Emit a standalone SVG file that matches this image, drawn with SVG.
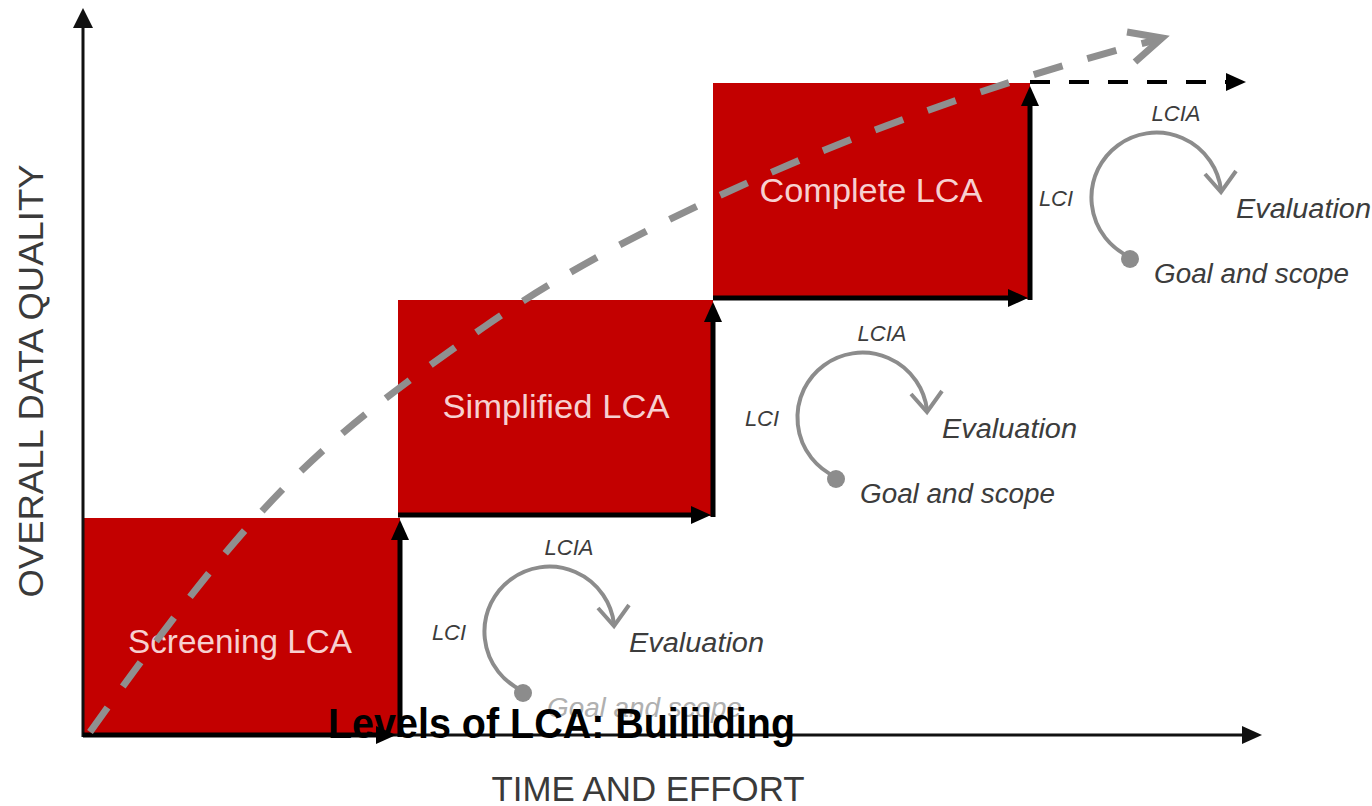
<svg xmlns="http://www.w3.org/2000/svg" width="1372" height="806" viewBox="0 0 1372 806">
<style>
.box{fill:#c30000}
.boxlabel{font-family:"Liberation Sans",Arial,sans-serif;font-size:33px;fill:#f7d0d0;text-anchor:middle}
.axislabel{font-family:"Liberation Sans",Arial,sans-serif;font-size:35px;fill:#3a3a3a}
.step{stroke:#000;stroke-width:5;fill:none;marker-end:url(#ah)}
.axis{stroke:#111;stroke-width:3;fill:none}
.cyc{fill:none;stroke:#8c8c8c;stroke-width:4}
.cyct{font-family:"Liberation Sans",Arial,sans-serif;font-style:italic;fill:#3c3c3c}
.small{font-size:22px;text-anchor:middle}
.big{font-size:27px}
.title{font-family:"Liberation Sans",Arial,sans-serif;font-weight:bold;font-size:43px;fill:#000}
</style>
<defs>
<marker id="ah" viewBox="0 0 20 18" refX="10" refY="9" markerWidth="20" markerHeight="18" markerUnits="userSpaceOnUse" orient="auto">
<path d="M0,0 L20,9 L0,18 z" fill="#000"/>
</marker>
</defs>
<rect width="1372" height="806" fill="#fff"/>

<g id="screening">
<rect class="box" x="83" y="518" width="317" height="217"/>
<text class="boxlabel" x="240" y="653" textLength="224" lengthAdjust="spacingAndGlyphs">Screening LCA</text>
</g>
<g id="simplified">
<rect class="box" x="398" y="300" width="315" height="216"/>
<text class="boxlabel" x="556" y="418" textLength="227" lengthAdjust="spacingAndGlyphs">Simplified LCA</text>
</g>
<g id="complete">
<rect class="box" x="713" y="83" width="317" height="216"/>
<text class="boxlabel" x="871" y="202" textLength="223" lengthAdjust="spacingAndGlyphs">Complete LCA</text>
</g>

<g id="axes">
<line class="axis" x1="83" y1="737" x2="83" y2="26"/>
<path d="M73,28 L83,8 L93,28 z" fill="#111"/>
<line class="axis" x1="82" y1="735" x2="1244" y2="735"/>
<path d="M1242,726 L1262,735 L1242,744 z" fill="#111"/>
<text class="axislabel" transform="translate(43,381) rotate(-90)" text-anchor="middle" textLength="433" lengthAdjust="spacingAndGlyphs">OVERALL DATA QUALITY</text>
<text class="axislabel" x="648" y="801" text-anchor="middle" textLength="313" lengthAdjust="spacingAndGlyphs">TIME AND EFFORT</text>
</g>

<g id="connectors">
<line class="step" x1="83" y1="735" x2="386" y2="735"/>
<line class="step" x1="400" y1="737" x2="400" y2="530"/>
<line class="step" x1="398" y1="515" x2="701" y2="515"/>
<line class="step" x1="713" y1="517" x2="713" y2="312"/>
<line class="step" x1="713" y1="298" x2="1018" y2="298"/>
<line class="step" x1="1030" y1="300" x2="1030" y2="96"/>
<line x1="1030" y1="82" x2="1236" y2="82" stroke="#000" stroke-width="4" stroke-dasharray="20 19" marker-end="url(#ah)"/>
<path d="M90,732 C260,494 314,446 484,327 C673,195 973,85 1160,39" fill="none" stroke="#8f8f8f" stroke-width="7" stroke-dasharray="30 26"/>
<polyline points="1127,32 1162,38 1135,62" fill="none" stroke="#8f8f8f" stroke-width="7" stroke-linejoin="miter"/>
</g>

<g id="cycle-screening" transform="translate(-313,214)">
<path class="cyc" d="M836,477 A65,65 0 1 1 927,410"/>
<polyline class="cyc" points="911,394 927,412 942,391"/>
<circle cx="836" cy="479" r="9" fill="#8c8c8c"/>
<text class="cyct small" x="882" y="341">LCIA</text>
<text class="cyct small" x="762" y="426">LCI</text>
<text class="cyct big" x="942" y="438" textLength="135" lengthAdjust="spacingAndGlyphs">Evaluation</text>
<text class="cyct big" x="860" y="503" textLength="195" lengthAdjust="spacingAndGlyphs" style="fill:#b0b0b0">Goal and scope</text>
</g>

<g id="cycle-simplified">
<path class="cyc" d="M836,477 A65,65 0 1 1 927,410"/>
<polyline class="cyc" points="911,394 927,412 942,391"/>
<circle cx="836" cy="479" r="9" fill="#8c8c8c"/>
<text class="cyct small" x="882" y="341">LCIA</text>
<text class="cyct small" x="762" y="426">LCI</text>
<text class="cyct big" x="942" y="438" textLength="135" lengthAdjust="spacingAndGlyphs">Evaluation</text>
<text class="cyct big" x="860" y="503" textLength="195" lengthAdjust="spacingAndGlyphs">Goal and scope</text>
</g>

<g id="cycle-complete" transform="translate(294,-220)">
<path class="cyc" d="M836,477 A65,65 0 1 1 927,410"/>
<polyline class="cyc" points="911,394 927,412 942,391"/>
<circle cx="836" cy="479" r="9" fill="#8c8c8c"/>
<text class="cyct small" x="882" y="341">LCIA</text>
<text class="cyct small" x="762" y="426">LCI</text>
<text class="cyct big" x="942" y="438" textLength="135" lengthAdjust="spacingAndGlyphs">Evaluation</text>
<text class="cyct big" x="860" y="503" textLength="195" lengthAdjust="spacingAndGlyphs">Goal and scope</text>
</g>

<g id="title">
<text class="title" x="328" y="738" textLength="467" lengthAdjust="spacingAndGlyphs">Levels of LCA: Buililding</text>
</g>
</svg>
